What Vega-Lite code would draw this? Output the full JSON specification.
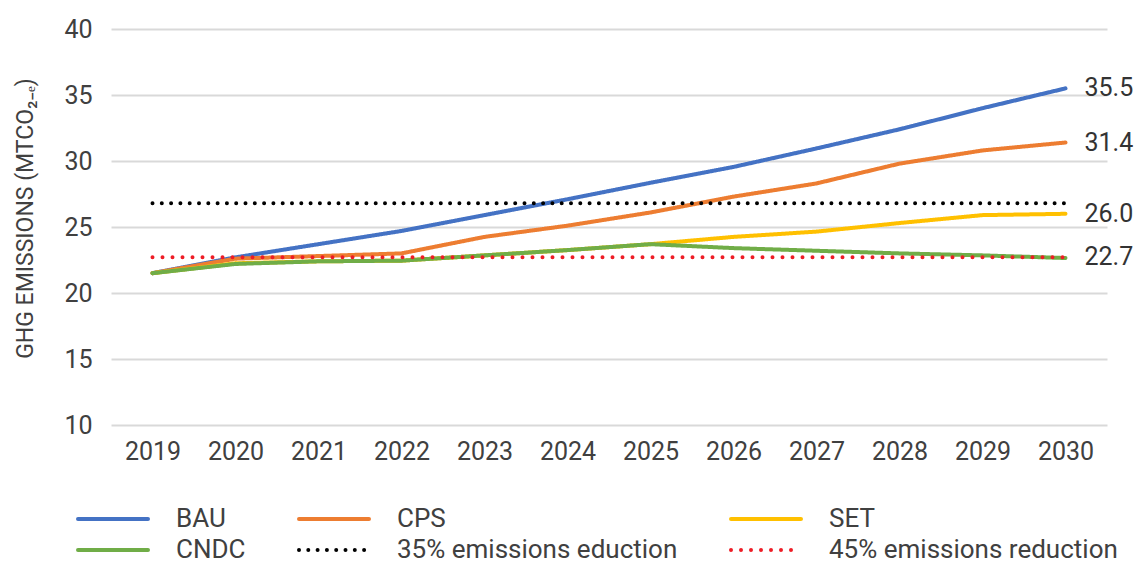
{
  "$schema": "https://vega.github.io/schema/vega-lite/v6.json",
  "width": 996,
  "height": 396,
  "autosize": "none",
  "padding": {"left": 111, "top": 29, "right": 30, "bottom": 139},
  "background": "white",
  "config": {"font": "Roboto", "view": {"stroke": null}},
  "datasets": {
    "series": [
      {"year": "2019", "series": "BAU", "value": 21.5},
      {"year": "2020", "series": "BAU", "value": 22.7},
      {"year": "2021", "series": "BAU", "value": 23.7},
      {"year": "2022", "series": "BAU", "value": 24.7},
      {"year": "2023", "series": "BAU", "value": 25.9},
      {"year": "2024", "series": "BAU", "value": 27.1},
      {"year": "2025", "series": "BAU", "value": 28.35},
      {"year": "2026", "series": "BAU", "value": 29.55},
      {"year": "2027", "series": "BAU", "value": 30.95},
      {"year": "2028", "series": "BAU", "value": 32.4},
      {"year": "2029", "series": "BAU", "value": 34.0},
      {"year": "2030", "series": "BAU", "value": 35.5},
      {"year": "2019", "series": "CPS", "value": 21.5},
      {"year": "2020", "series": "CPS", "value": 22.6},
      {"year": "2021", "series": "CPS", "value": 22.8},
      {"year": "2022", "series": "CPS", "value": 23.0},
      {"year": "2023", "series": "CPS", "value": 24.25},
      {"year": "2024", "series": "CPS", "value": 25.1},
      {"year": "2025", "series": "CPS", "value": 26.1},
      {"year": "2026", "series": "CPS", "value": 27.3},
      {"year": "2027", "series": "CPS", "value": 28.3},
      {"year": "2028", "series": "CPS", "value": 29.8},
      {"year": "2029", "series": "CPS", "value": 30.8},
      {"year": "2030", "series": "CPS", "value": 31.4},
      {"year": "2019", "series": "SET", "value": 21.5},
      {"year": "2020", "series": "SET", "value": 22.25},
      {"year": "2021", "series": "SET", "value": 22.4},
      {"year": "2022", "series": "SET", "value": 22.45},
      {"year": "2023", "series": "SET", "value": 22.85},
      {"year": "2024", "series": "SET", "value": 23.25},
      {"year": "2025", "series": "SET", "value": 23.7},
      {"year": "2026", "series": "SET", "value": 24.25},
      {"year": "2027", "series": "SET", "value": 24.65},
      {"year": "2028", "series": "SET", "value": 25.3},
      {"year": "2029", "series": "SET", "value": 25.9},
      {"year": "2030", "series": "SET", "value": 26.0},
      {"year": "2019", "series": "CNDC", "value": 21.5},
      {"year": "2020", "series": "CNDC", "value": 22.2},
      {"year": "2021", "series": "CNDC", "value": 22.4},
      {"year": "2022", "series": "CNDC", "value": 22.45},
      {"year": "2023", "series": "CNDC", "value": 22.85},
      {"year": "2024", "series": "CNDC", "value": 23.25},
      {"year": "2025", "series": "CNDC", "value": 23.7},
      {"year": "2026", "series": "CNDC", "value": 23.4},
      {"year": "2027", "series": "CNDC", "value": 23.2},
      {"year": "2028", "series": "CNDC", "value": 23.0},
      {"year": "2029", "series": "CNDC", "value": 22.85},
      {"year": "2030", "series": "CNDC", "value": 22.65},
      {"year": "2019", "series": "35% emissions eduction", "value": 26.8},
      {"year": "2020", "series": "35% emissions eduction", "value": 26.8},
      {"year": "2021", "series": "35% emissions eduction", "value": 26.8},
      {"year": "2022", "series": "35% emissions eduction", "value": 26.8},
      {"year": "2023", "series": "35% emissions eduction", "value": 26.8},
      {"year": "2024", "series": "35% emissions eduction", "value": 26.8},
      {"year": "2025", "series": "35% emissions eduction", "value": 26.8},
      {"year": "2026", "series": "35% emissions eduction", "value": 26.8},
      {"year": "2027", "series": "35% emissions eduction", "value": 26.8},
      {"year": "2028", "series": "35% emissions eduction", "value": 26.8},
      {"year": "2029", "series": "35% emissions eduction", "value": 26.8},
      {"year": "2030", "series": "35% emissions eduction", "value": 26.8},
      {"year": "2019", "series": "45% emissions reduction", "value": 22.7},
      {"year": "2020", "series": "45% emissions reduction", "value": 22.7},
      {"year": "2021", "series": "45% emissions reduction", "value": 22.7},
      {"year": "2022", "series": "45% emissions reduction", "value": 22.7},
      {"year": "2023", "series": "45% emissions reduction", "value": 22.7},
      {"year": "2024", "series": "45% emissions reduction", "value": 22.7},
      {"year": "2025", "series": "45% emissions reduction", "value": 22.7},
      {"year": "2026", "series": "45% emissions reduction", "value": 22.7},
      {"year": "2027", "series": "45% emissions reduction", "value": 22.7},
      {"year": "2028", "series": "45% emissions reduction", "value": 22.7},
      {"year": "2029", "series": "45% emissions reduction", "value": 22.7},
      {"year": "2030", "series": "45% emissions reduction", "value": 22.7}
    ],
    "labels": [
      {"year": "2030", "series": "BAU", "value": 35.5, "label": "35.5"},
      {"year": "2030", "series": "CPS", "value": 31.4, "label": "31.4"},
      {"year": "2030", "series": "SET", "value": 26.0, "label": "26.0"},
      {"year": "2030", "series": "45% emissions reduction", "value": 22.7, "label": "22.7"}
    ]
  },
  "layer": [
    {
      "data": {"name": "series"},
      "mark": {"type": "line", "strokeWidth": 4, "strokeCap": "round", "strokeJoin": "round"},
      "encoding": {
        "x": {
          "field": "year", "type": "ordinal",
          "scale": {"type": "point", "padding": 0.5},
          "axis": {"title": null, "labelAngle": 0, "labelFontSize": 25, "labelColor": "#404040", "labelPadding": 14, "ticks": false, "domain": false, "grid": false}
        },
        "y": {
          "field": "value", "type": "quantitative",
          "scale": {"domain": [10, 40], "nice": false, "zero": false},
          "axis": {
            "title": "GHG EMISSIONS (MTCO₂₋ₑ)",
            "values": [10, 15, 20, 25, 30, 35, 40],
            "labelFontSize": 25, "labelColor": "#404040", "labelPadding": 19,
            "ticks": false, "domain": false,
            "gridColor": "#D9D9D9", "gridWidth": 2,
            "titleFontSize": 23, "titleFontWeight": "normal", "titleColor": "#404040",
            "titleX": -86, "titleY": 189, "titleAngle": -90, "titleAlign": "center", "titleBaseline": "middle"
          }
        },
        "color": {
          "field": "series", "type": "nominal",
          "scale": {
            "domain": ["BAU", "CPS", "SET", "CNDC", "35% emissions eduction", "45% emissions reduction"],
            "range": ["#4472C4", "#ED7D31", "#FFC000", "#70AD47", "#000000", "#EE1C25"]
          },
          "legend": {
            "title": null, "orient": "none", "legendX": -36, "legendY": 477,
            "direction": "horizontal", "columns": 3,
            "symbolType": "M-1,0H6", "symbolSize": 400, "symbolStrokeWidth": 4,
            "labelOffset": 75, "labelFontSize": 26, "labelColor": "#404040",
            "columnPadding": 45, "rowPadding": 5, "labelLimit": 500,
            "encode": {"symbols": {"update": {"strokeCap": {"value": "round"}}}}
          }
        },
        "strokeDash": {
          "field": "series", "type": "nominal",
          "scale": {
            "domain": ["BAU", "CPS", "SET", "CNDC", "35% emissions eduction", "45% emissions reduction"],
            "range": [[1, 0], [1, 0], [1, 0], [1, 0], [0, 9.3], [0, 10]]
          },
          "legend": {
            "title": null, "orient": "none", "legendX": -36, "legendY": 477,
            "direction": "horizontal", "columns": 3,
            "symbolType": "M-1,0H6", "symbolSize": 400, "symbolStrokeWidth": 4,
            "labelOffset": 75, "labelFontSize": 26, "labelColor": "#404040",
            "columnPadding": 45, "rowPadding": 5, "labelLimit": 500,
            "encode": {"symbols": {"update": {"strokeCap": {"value": "round"}}}}
          }
        }
      }
    },
    {
      "data": {"name": "labels"},
      "mark": {"type": "text", "align": "left", "baseline": "middle", "dx": 19, "fontSize": 25, "color": "#333333"},
      "encoding": {
        "x": {"field": "year", "type": "ordinal"},
        "y": {"field": "value", "type": "quantitative"},
        "text": {"field": "label"}
      }
    }
  ]
}
